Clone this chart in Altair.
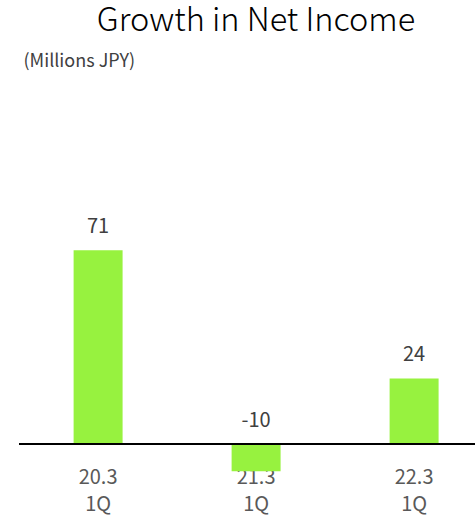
import altair as alt
import pandas as pd

categories = ["20.3\n1Q", "21.3\n1Q", "22.3\n1Q"]
values = [71, -10, 24]

df = pd.DataFrame({"period": categories, "value": values})

FONT = "Noto Sans CJK JP"

x_enc = alt.X(
    "period:N",
    sort=categories,
    scale=alt.Scale(paddingInner=0.69, paddingOuter=0.288, align=0.6),
    axis=alt.Axis(
        title=None,
        domain=False,
        ticks=False,
        labelAngle=0,
        labelExpr="split(datum.label, '\\n')",
        labelBaseline="top",
        labelPadding=-7,
        labelLineHeight=27,
        labelFontSize=20,
        labelFont=FONT,
        labelColor="#595959",
    ),
)

y_scale = alt.Scale(domain=[-11, 115], nice=False, zero=True)

bars = alt.Chart(df).mark_bar(color="#97F23F").encode(
    x=x_enc,
    y=alt.Y(
        "value:Q",
        scale=y_scale,
        axis=alt.Axis(
            title="(Millions JPY)",
            labels=False,
            ticks=False,
            domain=False,
            grid=False,
            titleAngle=0,
            titleAlign="left",
            titleBaseline="alphabetic",
            titleX=4,
            titleY=-64,
            titleFontSize=18,
            titleFont=FONT,
            titleFontWeight="normal",
            titleColor="#404040",
        ),
    ),
)

labels = alt.Chart(df).transform_calculate(
    ly="max(datum.value, 0)", txt="toString(datum.value)"
).mark_text(
    baseline="alphabetic", dy=-17, fontSize=20, font=FONT, color="#404040"
).encode(
    x=alt.X("period:N", sort=categories),
    y=alt.Y("ly:Q", scale=y_scale),
    text=alt.Text("txt:N"),
)

zero = alt.Chart(df).mark_rule(color="black", strokeWidth=2).encode(
    y=alt.Y(datum=0)
)

chart = alt.layer(bars, labels, zero).properties(
    width=456,
    height=344,
    title=alt.TitleParams(
        text="Growth in Net Income",
        anchor="middle",
        fontSize=32.5,
        font=FONT,
        fontWeight=300,
        color="#000000",
        baseline="alphabetic",
        offset=22,
        dx=9,
        dy=33,
    ),
    autosize=alt.AutoSizeParams(type="none"),
    padding={"left": 19, "top": 130, "right": 0, "bottom": 48},
).configure(background="white").configure_view(stroke=None)

chart.save("out.html", embed_options={"renderer": "svg", "actions": False})
